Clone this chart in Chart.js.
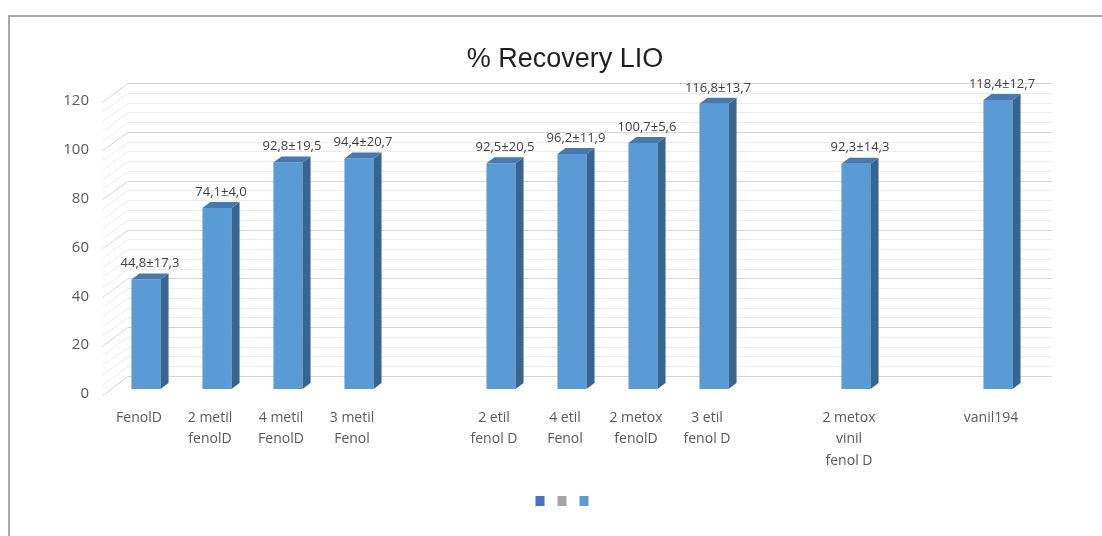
<!DOCTYPE html>
<html>
<head>
<meta charset="utf-8">
<title>% Recovery LIO</title>
<script src="https://cdn.jsdelivr.net/npm/chart.js@4/dist/chart.umd.min.js"></script>
<style>
  body { margin: 0; background: #fff; }
  #wrap { position: relative; width: 1102px; height: 536px; overflow: hidden; }
  #frame {
    position: absolute; left: 8px; top: 15px; right: -4px; bottom: -4px;
    border-top: 2px solid #a9a9a9; border-left: 2px solid #a9a9a9;
  }
  #chart { position: absolute; left: 0; top: 0; }
</style>
</head>
<body>
<div id="wrap">
  <div id="frame"></div>
  <canvas id="chart" width="1102" height="536"></canvas>
</div>
<script>
// data (empty slots are gaps between the groups)
const categories = [
    'FenolD', ['2 metil', 'fenolD'], ['4 metil', 'FenolD'], ['3 metil', 'Fenol'], '',
    ['2 etil', 'fenol D'], ['4 etil', 'Fenol'], ['2 metox', 'fenolD'], ['3 etil', 'fenol D'], '',
    ['2 metox', 'vinil', 'fenol D'], '', 'vanil194'
];
const recovery = [44.8, 74.1, 92.8, 94.4, null, 92.5, 96.2, 100.7, 116.8, null, 92.3, null, 118.4];
const stdDev = [17.3, 4.0, 19.5, 20.7, null, 20.5, 11.9, 5.6, 13.7, null, 14.3, null, 12.7];
const emptySeries = categories.map(() => null);
const yTicks = { min: 0, max: 120, step: 20, minorStep: 4 };

const FONT = "'Open Sans', 'Noto Sans', sans-serif";
const DEPTH_X = 8, DEPTH_Y = 6;

// 3D-ish back wall: a grid line every 4 units, darker every 20
const wallGrid = {
    id: 'wallGrid',
    beforeDatasetsDraw(chart) {
        const { ctx, chartArea, scales: { y } } = chart;
        const frontX = chartArea.left - 8;
        const backX = chartArea.left + 17.5;
        const rightX = chartArea.right + 18.5;
        ctx.save();
        ctx.lineWidth = 1;
        for (let v = yTicks.min; v <= yTicks.max; v += yTicks.minorStep) {
            const py = y.getPixelForValue(v);
            const major = v % yTicks.step === 0;
            ctx.strokeStyle = major ? '#d6d6d6' : '#ececec';
            ctx.beginPath();
            ctx.moveTo(frontX, Math.round(py + 5.5) + 0.5);
            ctx.lineTo(backX, Math.round(py - 13) + 0.5);
            ctx.lineTo(rightX, Math.round(py - 13) + 0.5);
            ctx.stroke();
        }
        ctx.restore();
    }
};

// side + top faces of the columns, and the value±sd labels
const columns3d = {
    id: 'columns3d',
    afterDatasetsDraw(chart) {
        const { ctx } = chart;
        const meta = chart.getDatasetMeta(2);
        ctx.save();
        meta.data.forEach((bar, i) => {
            if (recovery[i] == null) return;
            const { x, y, base, width } = bar.getProps(['x', 'y', 'base', 'width'], true);
            const left = x - width / 2, right = x + width / 2;
            // side face
            ctx.fillStyle = '#376591';
            ctx.beginPath();
            ctx.moveTo(right, y);
            ctx.lineTo(right + DEPTH_X, y - DEPTH_Y);
            ctx.lineTo(right + DEPTH_X, base - DEPTH_Y);
            ctx.lineTo(right, base);
            ctx.closePath();
            ctx.fill();
            // top face
            ctx.fillStyle = '#4779ad';
            ctx.beginPath();
            ctx.moveTo(left, y);
            ctx.lineTo(left + DEPTH_X, y - DEPTH_Y);
            ctx.lineTo(right + DEPTH_X, y - DEPTH_Y);
            ctx.lineTo(right, y);
            ctx.closePath();
            ctx.fill();
            // label
            const txt = recovery[i].toFixed(1).replace('.', ',') + '±' + stdDev[i].toFixed(1).replace('.', ',');
            ctx.fillStyle = '#404040';
            ctx.font = '13px ' + FONT;
            ctx.textAlign = 'center';
            ctx.textBaseline = 'middle';
            ctx.fillText(txt, x + 4, y - 16);
        });
        ctx.restore();
    }
};

new Chart(document.getElementById('chart'), {
    type: 'bar',
    data: {
        labels: categories,
        datasets: [
            { label: '', data: emptySeries, backgroundColor: '#4472C4', grouped: false },
            { label: '', data: emptySeries, backgroundColor: '#A5A5A5', grouped: false },
            {
                label: '',
                data: recovery,
                backgroundColor: '#5B9BD5',
                grouped: false,
                categoryPercentage: 1,
                barPercentage: 0.41
            }
        ]
    },
    options: {
        responsive: false,
        animation: false,
        devicePixelRatio: 1,
        layout: { padding: { left: 28, right: 0, top: 0, bottom: 19 } },
        plugins: {
            title: {
                display: true,
                text: '% Recovery LIO',
                color: '#1f1f1f',
                font: { family: "'Liberation Sans', Arial, sans-serif", size: 27, weight: 'normal' },
                padding: { top: 43, bottom: 20.6 }
            },
            legend: {
                position: 'bottom',
                labels: { boxWidth: 9, boxHeight: 10, padding: 7, font: { size: 12 } }
            },
            tooltip: { enabled: false }
        },
        scales: {
            x: {
                grid: { display: false, drawTicks: false },
                border: { display: false },
                ticks: {
                    color: '#595959',
                    font: { family: FONT, size: 14, lineHeight: 1.54 },
                    padding: 18,
                    labelOffset: -7,
                    maxRotation: 0,
                    autoSkip: false
                },
                afterFit(scale) { scale.height = 99; }
            },
            y: {
                min: yTicks.min,
                max: yTicks.max,
                grid: { display: false, drawTicks: false },
                border: { display: false },
                ticks: {
                    stepSize: yTicks.step,
                    color: '#595959',
                    font: { family: FONT, size: 15 },
                    padding: 21.5,
                    labelOffset: 5
                },
                afterFit(scale) { scale.width = 82.5; }
            },
            // empty right axis, only holds the space right of the wall
            yRight: {
                position: 'right',
                min: yTicks.min,
                max: yTicks.max,
                grid: { display: false, drawTicks: false },
                border: { display: false },
                ticks: { display: false },
                afterFit(scale) { scale.width = 68.5; }
            }
        }
    },
    plugins: [wallGrid, columns3d]
});
</script>
</body>
</html>
